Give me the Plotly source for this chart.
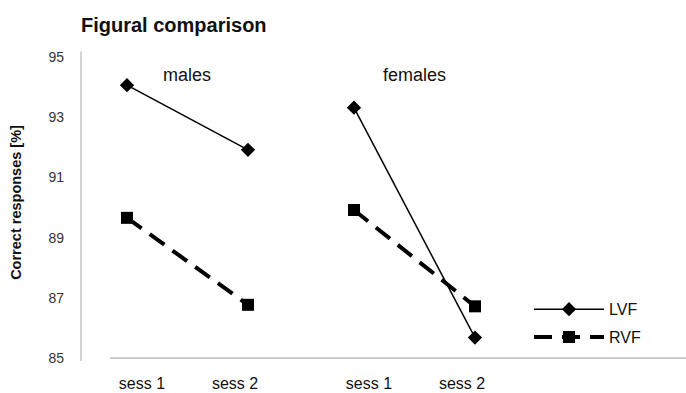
import plotly.graph_objects as go

groups = ["males", "females"]
sessions = ["sess 1", "sess 2"]
lvf_males = [94.07, 91.92]
lvf_females = [93.32, 85.68]
rvf_males = [89.66, 86.77]
rvf_females = [89.92, 86.72]
y_ticks = [85, 87, 89, 91, 93, 95]

# x positions of the session points within each group
group_offset = {"males": 0.0, "females": 1.876}
session_pos = [1.0, 2.0]
label_shift = [0.124, -0.107]

FONT = "Liberation Sans, Arial"

def xs(group):
    return [p + group_offset[group] for p in session_pos]

fig = go.Figure()
for i, (g, lv) in enumerate([("males", lvf_males), ("females", lvf_females)]):
    fig.add_trace(go.Scatter(
        x=xs(g), y=lv, mode="lines+markers", name="LVF", legendgroup="LVF",
        showlegend=(i == 0),
        line=dict(color="black", width=1.5),
        marker=dict(symbol="diamond", size=11, color="black")))
for i, (g, rv) in enumerate([("males", rvf_males), ("females", rvf_females)]):
    fig.add_trace(go.Scatter(
        x=xs(g), y=rv, mode="lines+markers", name="RVF", legendgroup="RVF",
        showlegend=(i == 0),
        line=dict(color="black", width=4, dash="18px,10px"),
        marker=dict(symbol="square", size=12, color="black")))

tickvals = []
ticktext = []
for g in groups:
    for p, s, sh in zip(xs(g), sessions, label_shift):
        tickvals.append(p + sh)
        ticktext.append(s)

for g in groups:
    fig.add_annotation(x=(xs(g)[0] + xs(g)[1]) / 2, y=95, xref="x", yref="y",
                       text=g, showarrow=False,
                       font=dict(family=FONT, size=18, color="#111"),
                       yshift=-18)

# axis lines
fig.add_shape(type="line", xref="x", yref="y", x0=0.86, x1=5.62, y0=85, y1=85,
              line=dict(color="#999", width=1))
fig.add_shape(type="line", xref="paper", yref="y", x0=0, x1=0, y0=84.9, y1=95.2,
              line=dict(color="#aaa", width=1))

fig.update_layout(
    width=686, height=393,
    margin=dict(l=81, r=0, t=40, b=28),
    paper_bgcolor="white", plot_bgcolor="white",
    title=dict(text="<b>Figural comparison</b>", x=81/686, xanchor="left",
               y=1 - 25/393, yanchor="middle",
               font=dict(family=FONT, size=20, color="#111")),
    xaxis=dict(range=[0.62, 5.62], tickvals=tickvals, ticktext=ticktext,
               showgrid=False, zeroline=False, showline=False, ticks="",
               automargin=False, ticklabelstandoff=7,
               tickfont=dict(family=FONT, size=16, color="#111")),
    yaxis=dict(range=[84.77, 95.57], tickvals=y_ticks, showgrid=False, zeroline=False,
               showline=False, ticks="", ticklabelstandoff=16, automargin=False,
               tickfont=dict(family=FONT, size=14, color="#333"),
               title=dict(text="<b>Correct responses [%]</b>", standoff=23,
                          font=dict(family=FONT, size=14.5, color="#111"))),
    legend=dict(x=508/686, y=1 - 305/393, xanchor="left", yanchor="top",
                itemwidth=70, tracegroupgap=4, bgcolor="rgba(0,0,0,0)",
                font=dict(family=FONT, size=16, color="#111")),
)

fig.write_html("out.html", config={"displayModeBar": False},
               post_script="document.body.style.margin='0px';")
